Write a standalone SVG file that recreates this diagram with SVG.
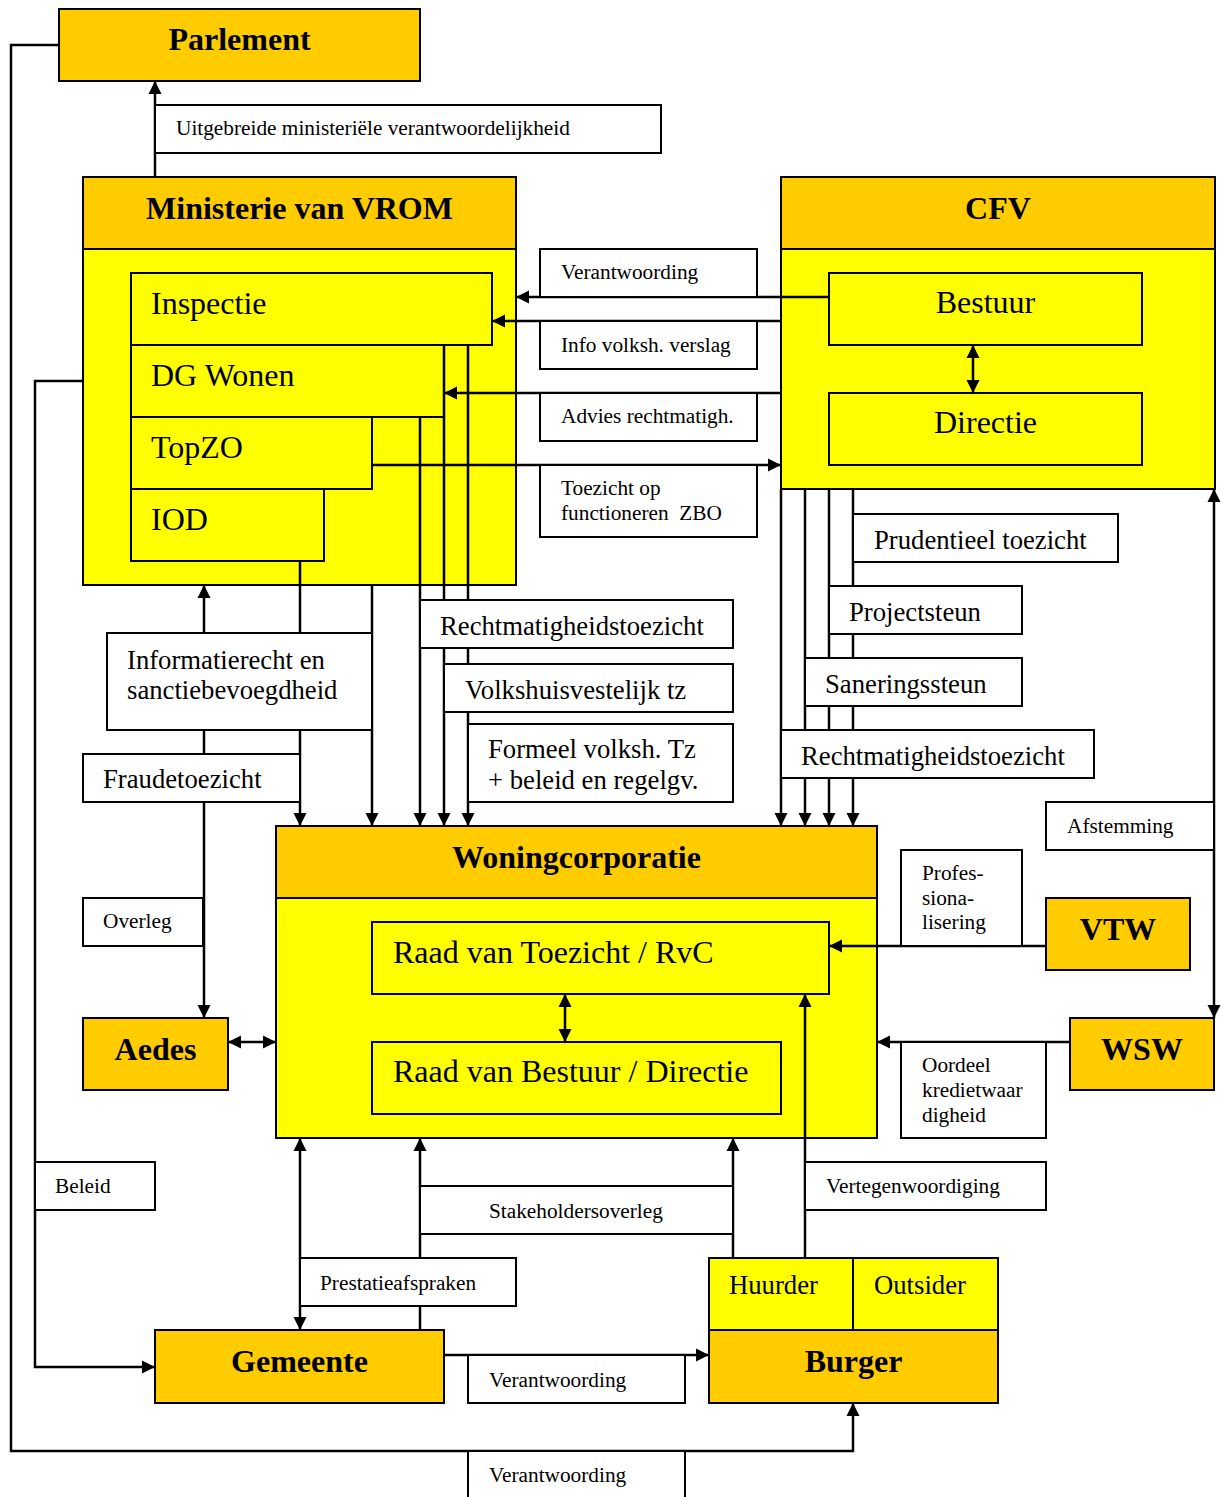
<svg xmlns="http://www.w3.org/2000/svg" width="1221" height="1497" viewBox="0 0 1221 1497">
<style>
.or{fill:#FFCC00;stroke:#000;stroke-width:2}
.ye{fill:#FFFF00;stroke:#000;stroke-width:2}
.lb{fill:#FFFFFF;stroke:#000;stroke-width:2}
.ln{fill:none;stroke:#000;stroke-width:2.5}
.hb{font-family:"Liberation Serif",serif;font-weight:bold;font-size:32px;text-anchor:middle;fill:#000}
.big{font-family:"Liberation Serif",serif;font-size:32px;fill:#000}
.bigc{font-family:"Liberation Serif",serif;font-size:32px;fill:#000;text-anchor:middle}
.md{font-family:"Liberation Serif",serif;font-size:26.7px;fill:#000}
.sm{font-family:"Liberation Serif",serif;font-size:21.3px;fill:#000}
</style>
<defs>
<marker id="ah" markerUnits="userSpaceOnUse" markerWidth="14" markerHeight="14" refX="13" refY="7" orient="auto-start-reverse" viewBox="0 0 14 14">
<path d="M0,0.5 L13,7 L0,13.5 z" fill="#000"/>
</marker>
</defs>
<rect width="1221" height="1497" fill="#fff"/>

<g id="parlement">
<rect class="or" x="59" y="9" width="361" height="72"/>
<text class="hb" x="239.5" y="50">Parlement</text>
</g>

<g id="vrom">
<rect class="ye" x="83" y="177" width="433" height="408"/>
<rect class="or" x="83" y="177" width="433" height="72"/>
<text class="hb" x="299.5" y="219">Ministerie van VROM</text>
</g>
<g id="inspectie"><rect class="ye" x="131" y="273" width="361" height="72"/><text class="big" x="151" y="314">Inspectie</text></g>
<g id="dgwonen"><rect class="ye" x="131" y="345" width="313" height="72"/><text class="big" x="151" y="386">DG Wonen</text></g>
<g id="topzo"><rect class="ye" x="131" y="417" width="241" height="72"/><text class="big" x="151" y="458">TopZO</text></g>
<g id="iod"><rect class="ye" x="131" y="489" width="193" height="72"/><text class="big" x="151" y="530">IOD</text></g>

<g id="cfv">
<rect class="ye" x="781" y="177" width="434" height="312"/>
<rect class="or" x="781" y="177" width="434" height="72"/>
<text class="hb" x="998" y="219">CFV</text>
</g>
<g id="bestuur"><rect class="ye" x="829" y="273" width="313" height="72"/><text class="bigc" x="985.5" y="313">Bestuur</text></g>
<g id="directie"><rect class="ye" x="829" y="393" width="313" height="72"/><text class="bigc" x="985.5" y="433">Directie</text></g>

<g id="woningcorporatie">
<rect class="ye" x="276" y="826" width="601" height="312"/>
<rect class="or" x="276" y="826" width="601" height="72"/>
<text class="hb" x="576.5" y="868">Woningcorporatie</text>
</g>
<g id="rvt"><rect class="ye" x="372" y="922" width="457" height="72"/><text class="big" x="393" y="963">Raad van Toezicht / RvC</text></g>
<g id="rvb"><rect class="ye" x="372" y="1042" width="409" height="72"/><text class="big" x="393" y="1082">Raad van Bestuur / Directie</text></g>

<g id="aedes"><rect class="or" x="83" y="1018" width="145" height="72"/><text class="hb" x="155.5" y="1060">Aedes</text></g>
<g id="vtw"><rect class="or" x="1046" y="898" width="144" height="72"/><text class="hb" x="1118" y="940">VTW</text></g>
<g id="wsw"><rect class="or" x="1070" y="1018" width="144" height="72"/><text class="hb" x="1142" y="1060">WSW</text></g>
<g id="gemeente"><rect class="or" x="155" y="1330" width="289" height="73"/><text class="hb" x="299.5" y="1372">Gemeente</text></g>
<g id="burger">
<rect class="or" x="709" y="1330" width="289" height="73"/>
<text class="hb" x="853.5" y="1372">Burger</text>
</g>
<g id="huurder"><rect class="ye" x="709" y="1258" width="144" height="72"/><text class="md" x="729" y="1294">Huurder</text></g>
<g id="outsider"><rect class="ye" x="853" y="1258" width="145" height="72"/><text class="md" x="874" y="1294">Outsider</text></g>

<g id="connectors">
<path class="ln" d="M155,177 V81" marker-end="url(#ah)"/>
<path class="ln" d="M829,297 H516" marker-end="url(#ah)"/>
<path class="ln" d="M781,321 H492" marker-end="url(#ah)"/>
<path class="ln" d="M781,393 H444" marker-end="url(#ah)"/>
<path class="ln" d="M372,465 H781" marker-end="url(#ah)"/>
<path class="ln" d="M973,345 V393" marker-start="url(#ah)" marker-end="url(#ah)"/>
<path class="ln" d="M300,561 V826" marker-end="url(#ah)"/>
<path class="ln" d="M204,1018 V585" marker-start="url(#ah)" marker-end="url(#ah)"/>
<path class="ln" d="M372,585 V826" marker-end="url(#ah)"/>
<path class="ln" d="M420,417 V826" marker-end="url(#ah)"/>
<path class="ln" d="M444,345 V826" marker-end="url(#ah)"/>
<path class="ln" d="M468,345 V826" marker-end="url(#ah)"/>
<path class="ln" d="M781,489 V826" marker-end="url(#ah)"/>
<path class="ln" d="M805,489 V826" marker-end="url(#ah)"/>
<path class="ln" d="M829,489 V826" marker-end="url(#ah)"/>
<path class="ln" d="M853,489 V826" marker-end="url(#ah)"/>
<path class="ln" d="M1214,489 V1018" marker-start="url(#ah)" marker-end="url(#ah)"/>
<path class="ln" d="M1046,946 H829" marker-end="url(#ah)"/>
<path class="ln" d="M1070,1042 H877" marker-end="url(#ah)"/>
<path class="ln" d="M228,1042 H276" marker-start="url(#ah)" marker-end="url(#ah)"/>
<path class="ln" d="M565,994 V1042" marker-start="url(#ah)" marker-end="url(#ah)"/>
<path class="ln" d="M805,1258 V994" marker-end="url(#ah)"/>
<path class="ln" d="M733,1258 V1138" marker-end="url(#ah)"/>
<path class="ln" d="M420,1330 V1138" marker-end="url(#ah)"/>
<path class="ln" d="M300,1330 V1138" marker-start="url(#ah)" marker-end="url(#ah)"/>
<path class="ln" d="M444,1355 H709" marker-end="url(#ah)"/>
<path class="ln" d="M83,381 H35 V1367 H155" marker-end="url(#ah)"/>
<path class="ln" d="M59,45 H11 V1451 H853 V1403" marker-end="url(#ah)"/>
</g>

<g id="labels">
<rect class="lb" x="155" y="105" width="506" height="48"/><text class="sm" x="176" y="135">Uitgebreide ministeriële verantwoordelijkheid</text>
<rect class="lb" x="540" y="249" width="217" height="48"/><text class="sm" x="561" y="279">Verantwoording</text>
<rect class="lb" x="540" y="321" width="217" height="48"/><text class="sm" x="561" y="352">Info volksh. verslag</text>
<rect class="lb" x="540" y="393" width="217" height="48"/><text class="sm" x="561" y="423">Advies rechtmatigh.</text>
<rect class="lb" x="540" y="465" width="217" height="72"/><text class="sm" x="561" y="495">Toezicht op</text><text class="sm" x="561" y="520" xml:space="preserve">functioneren  ZBO</text>
<rect class="lb" x="107" y="633" width="265" height="97"/><text class="md" x="127" y="669">Informatierecht en</text><text class="md" x="127" y="699">sanctiebevoegdheid</text>
<rect class="lb" x="83" y="754" width="217" height="48"/><text class="md" x="103" y="788">Fraudetoezicht</text>
<rect class="lb" x="420" y="600" width="313" height="48"/><text class="md" x="440" y="635">Rechtmatigheidstoezicht</text>
<rect class="lb" x="444" y="664" width="289" height="48"/><text class="md" x="465" y="699">Volkshuisvestelijk tz</text>
<rect class="lb" x="468" y="724" width="265" height="78"/><text class="md" x="488" y="758">Formeel volksh. Tz</text><text class="md" x="488" y="789">+ beleid en regelgv.</text>
<rect class="lb" x="853" y="514" width="265" height="48"/><text class="md" x="874" y="549">Prudentieel toezicht</text>
<rect class="lb" x="829" y="586" width="193" height="48"/><text class="md" x="849" y="621">Projectsteun</text>
<rect class="lb" x="805" y="658" width="217" height="48"/><text class="md" x="825" y="693">Saneringssteun</text>
<rect class="lb" x="781" y="730" width="313" height="48"/><text class="md" x="801" y="765">Rechtmatigheidstoezicht</text>
<rect class="lb" x="1046" y="802" width="168" height="48"/><text class="sm" x="1067" y="833">Afstemming</text>
<rect class="lb" x="901" y="850" width="121" height="96"/><text class="sm" x="922" y="880">Profes-</text><text class="sm" x="922" y="905">siona-</text><text class="sm" x="922" y="929">lisering</text>
<rect class="lb" x="83" y="898" width="120" height="48"/><text class="sm" x="103" y="928">Overleg</text>
<rect class="lb" x="901" y="1042" width="145" height="96"/><text class="sm" x="922" y="1072">Oordeel</text><text class="sm" x="922" y="1097">kredietwaar</text><text class="sm" x="922" y="1122">digheid</text>
<rect class="lb" x="35" y="1162" width="120" height="48"/><text class="sm" x="55" y="1193">Beleid</text>
<rect class="lb" x="805" y="1162" width="241" height="48"/><text class="sm" x="826" y="1193">Vertegenwoordiging</text>
<rect class="lb" x="420" y="1186" width="313" height="48"/><text class="sm" x="489" y="1218">Stakeholdersoverleg</text>
<rect class="lb" x="300" y="1258" width="216" height="48"/><text class="sm" x="320" y="1290">Prestatieafspraken</text>
<rect class="lb" x="468" y="1355" width="217" height="48"/><text class="sm" x="489" y="1387">Verantwoording</text>
<rect class="lb" x="468" y="1451" width="217" height="60"/><text class="sm" x="489" y="1482">Verantwoording</text>
</g>
</svg>
